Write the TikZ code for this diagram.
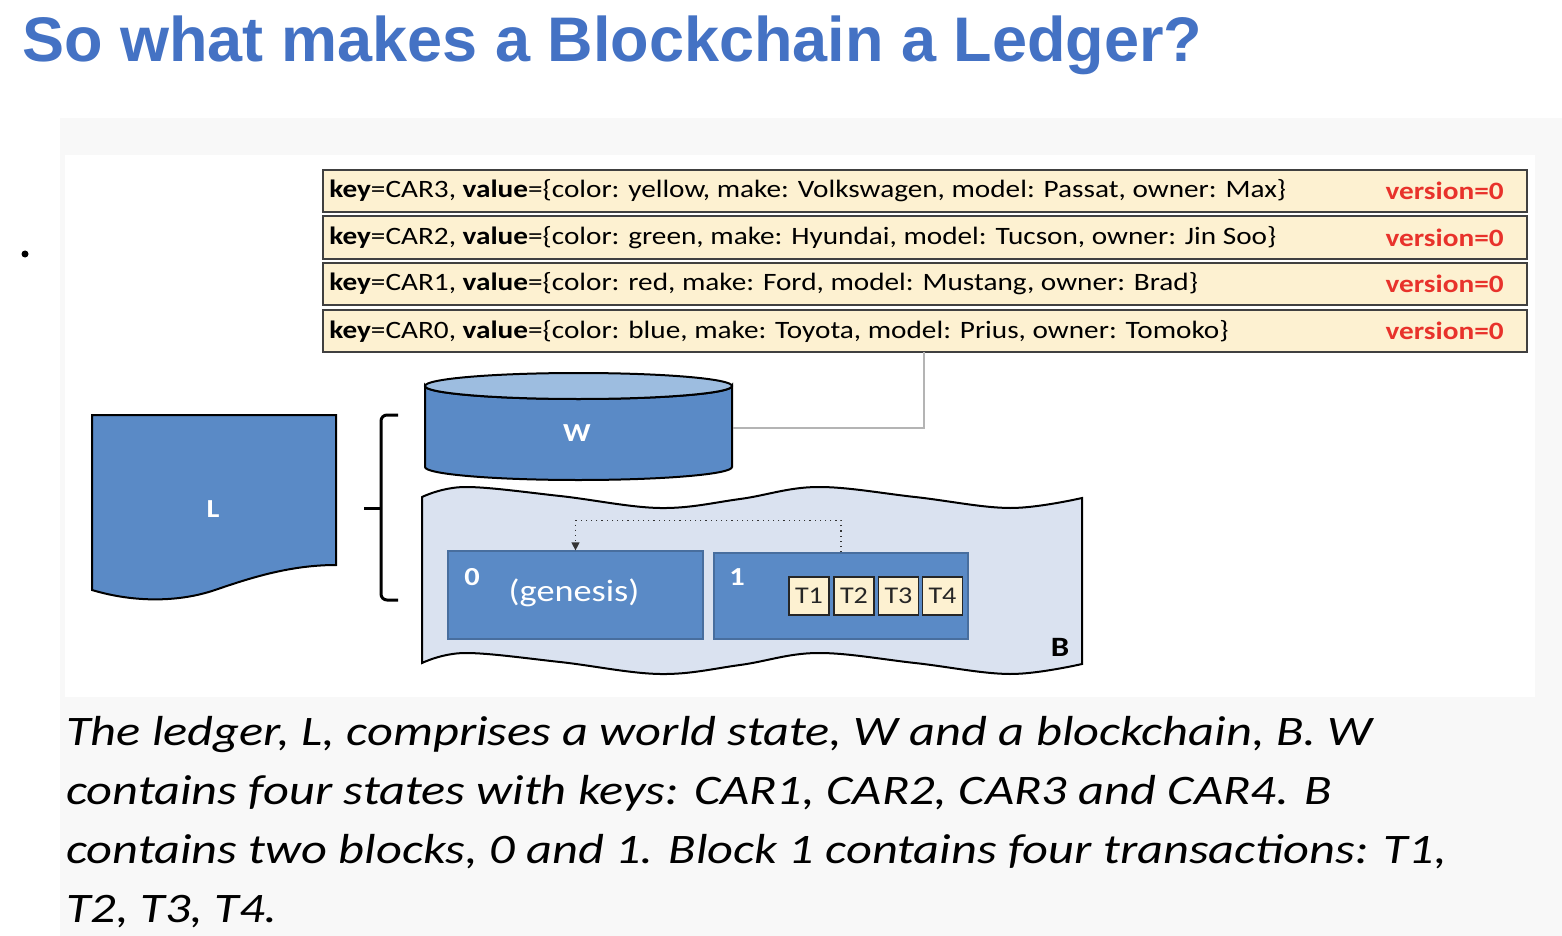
\documentclass[tikz,border=0pt]{standalone}
\usepackage{fontspec}
\setmainfont{Carlito}
\newfontfamily\headfont{Liberation Sans}
\newfontfamily\widefont[FakeStretch=1.17]{Carlito}
\newfontfamily\capfont[FakeStretch=1.2]{Carlito}
\usetikzlibrary{arrows.meta}

\definecolor{titleblue}{HTML}{4472C4}
\definecolor{shapeblue}{HTML}{5A8AC6}
\definecolor{lidblue}{HTML}{9DBDE0}
\definecolor{chainbg}{HTML}{DAE2F0}
\definecolor{cream}{HTML}{FDF1D1}
\definecolor{verred}{HTML}{E8322B}
\definecolor{panelgray}{HTML}{F8F8F8}
\definecolor{linkgray}{HTML}{B4B4B4}

\tikzset{
  rowbox/.style={draw=black!75, line width=1pt, fill=cream,
    minimum width=602pt, minimum height=21pt, inner sep=0pt},
  rowtext/.style={anchor=west, inner sep=0pt, font=\widefont\fontsize{12.5}{15}\selectfont},
  vertext/.style={anchor=east, inner sep=0pt, text=verred,
    font=\widefont\fontsize{12.5}{15}\selectfont\bfseries},
  blockbox/.style={draw=shapeblue!80!black, line width=0.6pt, fill=shapeblue,
    inner sep=0pt},
  txbox/.style={draw=black!85, line width=0.6pt, fill=cream, inner sep=0pt,
    minimum width=20pt, minimum height=19pt, font=\widefont\fontsize{12}{14}\selectfont,
    text=black!85},
  whitelabel/.style={text=white, inner sep=0pt, font=\widefont\fontsize{13}{15}\selectfont\bfseries},
  captext/.style={anchor=base west, inner sep=0pt,
    font=\capfont\fontsize{21}{25}\selectfont\itshape},
  outline/.style={draw=black, line width=1pt}
}

\begin{document}
\begin{tikzpicture}[x=0.5pt,y=-0.5pt]
  % page and panels
  \useasboundingbox (0,0) rectangle (1562,936);
  \fill[white] (0,0) rectangle (1562,936);
  \fill[panelgray] (60,118) rectangle (1562,936);
  \fill[white] (65,155) rectangle (1535,697);

  % heading and bullet
  \node[anchor=base west, inner sep=0pt, text=titleblue,
    font=\headfont\fontsize{31.5}{38}\selectfont\bfseries] (title) at (22,62)
    {So what makes a Blockchain a Ledger?};
  \fill (25,254) circle[radius=3.5];

  % world state records
  \node[rowbox] (r3) at (925,191) {};
  \node[rowbox] (r2) at (925,237.5) {};
  \node[rowbox] (r1) at (925,284) {};
  \node[rowbox] (r0) at (925,331) {};
  \node[rowtext] (t3) at ([xshift=3.5pt]r3.west)
    {\textbf{key}=CAR3, \textbf{value}=\{color: yellow, make: Volkswagen, model: Passat, owner: Max\}};
  \node[rowtext] (t2) at ([xshift=3.5pt]r2.west)
    {\textbf{key}=CAR2, \textbf{value}=\{color: green, make: Hyundai, model: Tucson, owner: Jin Soo\}};
  \node[rowtext] (t1) at ([xshift=3.5pt]r1.west)
    {\textbf{key}=CAR1, \textbf{value}=\{color: red, make: Ford, model: Mustang, owner: Brad\}};
  \node[rowtext] (t0) at ([xshift=3.5pt]r0.west)
    {\textbf{key}=CAR0, \textbf{value}=\{color: blue, make: Toyota, model: Prius, owner: Tomoko\}};
  \node[vertext] (v3) at ([xshift=-12pt]r3.east) {version=0};
  \node[vertext] (v2) at ([xshift=-12pt]r2.east) {version=0};
  \node[vertext] (v1) at ([xshift=-12pt]r1.east) {version=0};
  \node[vertext] (v0) at ([xshift=-12pt]r0.east) {version=0};

  % ledger document shape
  \filldraw[fill=shapeblue, outline]
    (92,415) -- (336,415) -- (336,565)
    .. controls (290,565) and (250,578) .. (215,590)
    .. controls (180,602) and (135,603) .. (92,590) -- cycle;
  \node[whitelabel] (L) at (213,509) {L};

  % brace
  \draw[line width=1.5pt, rounded corners=3pt]
    (398,415) -- (381,415) -- (381,600) -- (398,600);
  \draw[line width=1.5pt] (381,508) -- (364,508);

  % world state cylinder
  \filldraw[fill=shapeblue, outline]
    (425,386) -- (425,467)
    arc[start angle=180, end angle=0, x radius=153.5, y radius=13]
    -- (732,386)
    arc[start angle=0, end angle=180, x radius=153.5, y radius=13] -- cycle;
  \filldraw[fill=lidblue, outline] (578.5,386) ellipse[x radius=153.5, y radius=13];
  \node[whitelabel] (W) at (577,433) {W};
  \coordinate (wside) at (733,428);
  \coordinate (tap) at (924,352);
  \draw[linkgray, line width=0.8pt] (wside) -| (tap);

  % blockchain banner
  \filldraw[fill=chainbg, outline]
    plot[smooth, tension=0.6] coordinates
      {(422,497) (465,487) (560,496) (660,508) (740,499) (817,487) (915,497) (1010,508) (1082,498)}
    -- plot[smooth, tension=0.6] coordinates
      {(1082,664) (1010,674) (915,663) (817,653) (740,665) (660,674) (560,662) (465,653) (422,663)}
    -- cycle;
  \node[anchor=center, inner sep=0pt, font=\widefont\fontsize{14}{16}\selectfont\bfseries] (B) at (1060,647) {B};

  % blocks
  \node[blockbox, minimum width=127.5pt, minimum height=44pt] (blk0) at (575.5,595) {};
  \node[blockbox, minimum width=127pt, minimum height=43pt] (blk1) at (841,596) {};
  \node[whitelabel] (n0) at (472,577) {0};
  \node[text=white, inner sep=0pt, font=\widefont\fontsize{15.5}{17}\selectfont] (gen) at (574,593) {(genesis)};
  \node[whitelabel] (n1) at (737,577) {1};
  \node[txbox] (tx1) at (809,596) {T1};
  \node[txbox] (tx2) at (854,596) {T2};
  \node[txbox] (tx3) at (898.5,596) {T3};
  \node[txbox] (tx4) at (942.5,596) {T4};
  \draw[black!80, dotted, line width=0.6pt, -{Triangle[length=4pt,width=4pt]}]
    (blk1.north) -- ++(0,-32) -| (blk0.north);

  % caption
  \node[captext] (c1) at (66,745) {The ledger, L, comprises a world state, W and a blockchain, B. W};
  \node[captext] (c2) at (66,804) {contains four states with keys: CAR1, CAR2, CAR3 and CAR4. B};
  \node[captext] (c3) at (66,863) {contains two blocks, 0 and 1. Block 1 contains four transactions: T1,};
  \node[captext] (c4) at (66,922) {T2, T3, T4.};
\end{tikzpicture}
\end{document}
